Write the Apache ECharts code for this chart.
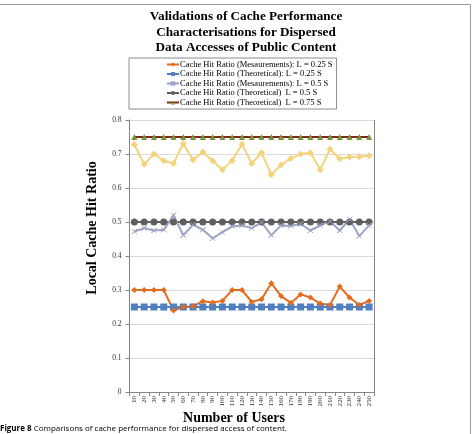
<!DOCTYPE html>
<html>
<head>
<meta charset="utf-8">
<script src="https://cdn.jsdelivr.net/npm/echarts@6/dist/echarts.min.js"></script>
<style>
  html, body { margin: 0; padding: 0; background: #fff; }
  #chart { width: 475px; height: 434px; }
</style>
</head>
<body>
<div id="chart"></div>
<script>
// number of users (x categories)
const users = ['10','20','30','40','50','60','70','80','90','100','110','120','130',
  '140','150','160','170','180','190','200','210','220','230','240','250'];

// measured hit ratio, L = 0.25 S
const meas025 = [0.30,0.30,0.30,0.30,0.240,0.250,0.252,0.267,0.263,0.268,0.300,0.300,0.265,
  0.273,0.320,0.282,0.262,0.287,0.278,0.260,0.256,0.310,0.278,0.256,0.268];
// measured hit ratio, L = 0.5 S
const meas05 = [0.472,0.482,0.475,0.477,0.520,0.461,0.492,0.477,0.452,0.470,0.487,0.490,0.482,
  0.499,0.461,0.490,0.488,0.494,0.475,0.490,0.502,0.475,0.508,0.459,0.490];
// measured hit ratio, L = 0.75 S (not in legend)
const meas075 = [0.728,0.670,0.700,0.680,0.672,0.730,0.683,0.706,0.680,0.654,0.681,0.729,0.672,
  0.704,0.639,0.668,0.687,0.700,0.704,0.654,0.714,0.686,0.691,0.692,0.695];
// theoretical values
const theo025 = users.map(() => 0.25);
const theo05 = users.map(() => 0.5);
const theo075 = users.map(() => 0.75);

const names = [
  'Cache Hit Ratio (Mesaurements): L = 0.25 S',
  'Cache Hit Ratio (Theoretical): L = 0.25 S',
  'Cache Hit Ratio (Mesaurements): L = 0.5 S',
  'Cache Hit Ratio (Theoretical)  L = 0.5 S',
  'Cache Hit Ratio (Theoretical)  L = 0.75 S'
];

const serif = '"Liberation Serif", "DejaVu Serif", serif';
const sans = '"Open Sans", "Noto Sans", sans-serif';
const crossPath = 'path://M0,0L10,10M10,0L0,10Z';

function line(name, data, color, symbol, size, extra) {
  return Object.assign({
    name: name,
    type: 'line',
    data: data,
    symbol: symbol,
    symbolSize: size,
    lineStyle: { color: color, width: 2 },
    itemStyle: { color: color },
    animation: false
  }, extra || {});
}

const chart = echarts.init(document.getElementById('chart'));
chart.setOption({
  backgroundColor: '#fff',
  legend: {
    data: names,
    orient: 'vertical',
    left: 129,
    top: 58,
    padding: [2, 4, 2, 37],
    borderColor: '#8c8c8c',
    borderWidth: 1,
    itemWidth: 12,
    itemHeight: 5,
    itemGap: 0.5,
    textStyle: { fontFamily: serif, fontSize: 8.5, color: '#000', padding: [0, 0, 0, -4] }
  },
  grid: { left: 129.5, right: 101, top: 120, bottom: 42 },
  xAxis: {
    type: 'category',
    data: users,
    boundaryGap: true,
    axisLine: { lineStyle: { color: '#868686' } },
    axisTick: { show: true, interval: 0, length: 4, lineStyle: { color: '#868686' } },
    axisLabel: { interval: 0, rotate: 90, fontFamily: serif, fontSize: 7, color: '#333', margin: 4 }
  },
  yAxis: {
    type: 'value',
    min: 0,
    max: 0.8,
    interval: 0.1,
    axisLine: { show: true, lineStyle: { color: '#868686' } },
    axisTick: { show: true, length: 4, lineStyle: { color: '#868686' } },
    axisLabel: { fontFamily: serif, fontSize: 7.5, color: '#333', margin: 8 },
    splitLine: { lineStyle: { color: '#d9d9d9', width: 1 } }
  },
  series: [
    line(names[4], theo075, '#7b2a1c', 'triangle', 6, { itemStyle: { color: '#77933c' } }),
    line('meas075', meas075, '#f3d37c', 'diamond', 7),
    line(names[3], theo05, '#5f5f5f', 'circle', 7),
    line(names[2], meas05, '#9da4c6', crossPath, 5, { itemStyle: { color: '#9da4c6', borderColor: '#9da4c6', borderWidth: 1 } }),
    line(names[1], theo025, '#4f7fc0', 'rect', 7),
    line(names[0], meas025, '#e46c1e', 'diamond', 6)
  ],
  graphic: [
    {
      type: 'polyline',
      shape: { points: [[0, 4.5], [470.5, 4.5], [470.5, 434]] },
      style: { stroke: '#9a9a9a', lineWidth: 1, fill: null },
      silent: true
    },
    {
      type: 'line',
      shape: { x1: 374.5, y1: 120, x2: 374.5, y2: 392 },
      style: { stroke: '#868686', lineWidth: 1 }
    },
    {
      // chart title
      type: 'text',
      x: 246,
      y: 9,
      style: {
        text: 'Validations of Cache Performance\nCharacterisations for Dispersed\nData Accesses of Public Content',
        fontFamily: serif, fontSize: 13.2, fontWeight: 'bold', fill: '#000',
        lineHeight: 15.5, align: 'center', verticalAlign: 'top'
      }
    },
    {
      // y axis title
      type: 'text',
      x: 92,
      y: 228,
      rotation: Math.PI / 2,
      style: {
        text: 'Local Cache Hit Ratio',
        fontFamily: serif, fontSize: 14, fontWeight: 'bold', fill: '#000',
        align: 'center', verticalAlign: 'middle'
      }
    },
    {
      // x axis title
      type: 'text',
      x: 234,
      y: 418,
      style: {
        text: 'Number of Users',
        fontFamily: serif, fontSize: 14, fontWeight: 'bold', fill: '#000',
        align: 'center', verticalAlign: 'middle'
      }
    },
    {
      type: 'text',
      left: 0,
      top: 425,
      style: {
        text: '{b|Figure 8} Comparisons of cache performance for dispersed access of content.',
        rich: {
          b: { fontFamily: sans, fontSize: 8, fontWeight: 'bold', fill: '#000' }
        },
        fontFamily: sans,
        fontSize: 8,
        fill: '#000'
      }
    }
  ]
});
</script>
</body>
</html>
